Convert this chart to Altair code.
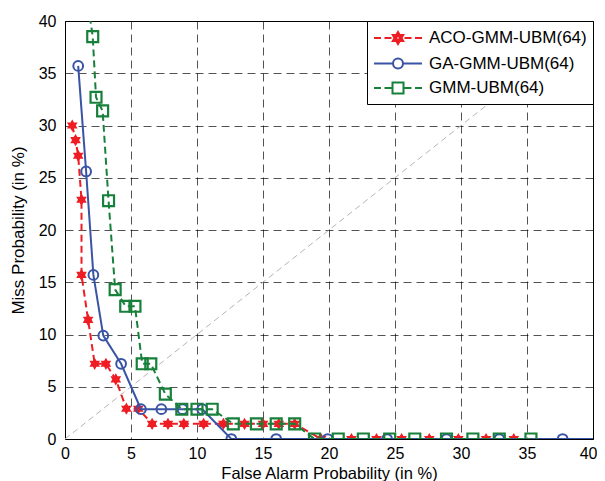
import altair as alt
import pandas as pd

# ---------------- data ----------------
series_names = ["ACO-GMM-UBM(64)", "GA-GMM-UBM(64)", "GMM-UBM(64)"]
series_colors = ["#ee1d23", "#3953a5", "#17803a"]

aco_fa = [0.55, 0.8, 1.0, 1.25, 1.25, 1.75, 2.25, 3.1, 3.85, 4.65, 5.55, 6.6, 7.8, 9.0,
          10.5, 12.0, 13.6, 15.0, 16.2, 17.4, 19.4, 21.7, 23.6, 25.5, 27.6, 29.8, 31.9, 34.0]
aco_miss = [30.0, 28.6, 27.1, 22.9, 15.7, 11.4, 7.2, 7.2, 5.7, 2.9, 2.9, 1.45, 1.45, 1.45,
            1.45, 1.45, 1.45, 1.45, 1.45, 1.45, 0, 0, 0, 0, 0, 0, 0, 0]

ga_fa = [1.0, 1.6, 2.15, 2.9, 4.25, 5.75, 7.3, 8.9, 10.4, 12.6, 16.0, 19.9, 24.4, 28.9,
         32.9, 37.7, 42.0]
ga_miss = [35.7, 25.6, 15.7, 9.9, 7.2, 2.85, 2.85, 2.85, 2.85, 0, 0, 0, 0, 0, 0, 0, 0]

gmm_fa = [1.65, 2.1, 2.35, 2.85, 3.3, 3.8, 4.6, 5.3, 5.85, 6.5, 7.6, 8.85, 10.0, 11.15,
          12.75, 14.5, 16.0, 17.4, 18.9, 20.7, 22.6, 24.6, 26.5, 28.9, 30.9, 32.9, 35.3]
gmm_miss = [42.5, 38.5, 32.7, 31.4, 22.8, 14.3, 12.7, 12.7, 7.2, 7.2, 4.3, 2.85, 2.85, 2.85,
            1.45, 1.45, 1.45, 1.45, 0, 0, 0, 0, 0, 0, 0, 0, 0]

diag = [0, 40]
tick_values = [0, 5, 10, 15, 20, 25, 30, 35, 40]

# ---------------- marker shapes ----------------
star_path = ("M0,-1L0.2887,-0.5L0.866,-0.5L0.5774,0L0.866,0.5L0.2887,0.5L0,1"
             "L-0.2887,0.5L-0.866,0.5L-0.5774,0L-0.866,-0.5L-0.2887,-0.5Z")


def hexagram(cx, r):
    import math
    ri = r / 3 ** 0.5
    pts = []
    for k in range(12):
        ang = -math.pi / 2 + k * math.pi / 6
        rad = r if k % 2 == 0 else ri
        pts.append((cx + rad * math.cos(ang), rad * math.sin(ang)))
    return "M" + "L".join(f"{x:.3f},{y:.3f}" for x, y in pts) + "Z"


# legend glyphs: line segments + marker, marker centred at x=1.4 units
dashes = "M-1,0L-0.3,0M0.05,0L0.75,0M2.05,0L2.75,0M3.1,0L3.8,0"
leg_aco = dashes + hexagram(1.4, 0.6) + hexagram(1.4, 0.3)
leg_ga = "M-1,0L0.9,0M1.9,0L3.8,0M1.9,0A0.5,0.5 0 1,1 0.9,0A0.5,0.5 0 1,1 1.9,0Z"
leg_gmm = dashes + "M0.85,-0.55L1.95,-0.55L1.95,0.55L0.85,0.55Z"
legend_paths = [leg_aco, leg_ga, leg_gmm]

# ---------------- chart ----------------
xs = alt.Scale(domain=[0, 40], nice=False)
ys = alt.Scale(domain=[0, 40], nice=False)
X = alt.X("fa:Q", scale=xs,
          axis=alt.Axis(values=tick_values, title="False Alarm Probability (in %)",
                        labelPadding=6, titlePadding=4, labelFlush=False,
                        labelAlign={"condition": {"test": "datum.value >= 40",
                                                  "value": "right"},
                                    "value": "center"},
                        labelOffset={"condition": {"test": "datum.value >= 40",
                                                   "value": 4},
                                     "value": 0},
                        titleFontSize=16.5))
Y = alt.Y("miss:Q", scale=ys,
          axis=alt.Axis(values=tick_values, title="Miss Probability (in %)",
                        labelPadding=9, titlePadding=11, titleFontSize=17))


def frame(fa, miss):
    return pd.DataFrame({"fa": fa, "miss": miss})


diag_layer = alt.Chart(frame(diag, diag)).mark_line(
    color="#b5b5b5", strokeWidth=1, strokeDash=[6, 4]).encode(x=X, y=Y)

aco_df = frame(aco_fa, aco_miss)
aco_line = alt.Chart(aco_df).mark_line(
    color=series_colors[0], strokeWidth=2, strokeDash=[7, 4], clip=True).encode(x=X, y=Y)
aco_pts = alt.Chart(aco_df).mark_point(
    shape=star_path, filled=True, size=150, color=series_colors[0], opacity=1,
    clip=True).encode(x=X, y=Y)

ga_df = frame(ga_fa, ga_miss)
ga_line = alt.Chart(ga_df).mark_line(
    color=series_colors[1], strokeWidth=2, clip=True).encode(x=X, y=Y)
ga_pts = alt.Chart(ga_df).mark_point(
    shape="circle", filled=False, size=95, strokeWidth=2, color=series_colors[1],
    opacity=1, clip=True).encode(x=X, y=Y)

gmm_df = frame(gmm_fa, gmm_miss)
gmm_line = alt.Chart(gmm_df).mark_line(
    color=series_colors[2], strokeWidth=2, strokeDash=[7, 4], clip=True).encode(x=X, y=Y)
gmm_pts = alt.Chart(gmm_df).mark_point(
    shape="square", filled=False, size=120, strokeWidth=2.2, color=series_colors[2],
    opacity=1, clip=True).encode(x=X, y=Y)

legend_layer = alt.Chart(pd.DataFrame({"series": series_names})).mark_point(
    filled=False, size=400, strokeWidth=2, opacity=1).encode(
    color=alt.Color("series:N",
                    scale=alt.Scale(domain=series_names, range=series_colors),
                    legend=alt.Legend(title=None)),
    shape=alt.Shape("series:N",
                    scale=alt.Scale(domain=series_names, range=legend_paths),
                    legend=alt.Legend(title=None)),
).transform_filter("false")

chart = alt.layer(
    diag_layer, aco_line, aco_pts, ga_line, ga_pts, gmm_line, gmm_pts, legend_layer
).properties(
    width=528, height=418, autosize="none",
    padding={"left": 57, "top": 13, "right": 4, "bottom": 42},
).configure_view(
    stroke="black", strokeWidth=1
).configure_axis(
    labelFont="Liberation Sans", labelFontSize=16, labelColor="black",
    titleFont="Liberation Sans", titleFontSize=16, titleFontWeight="normal",
    titleColor="black", ticks=False, domain=False, grid=True,
    gridColor="black", gridDash=[8, 5], gridWidth=0.8, gridOpacity=0.85,
).configure_legend(
    orient="top-right", offset=0, padding=6, strokeColor="black", fillColor="white",
    labelFont="Liberation Sans", labelFontSize=17, labelColor="black",
    symbolSize=400, symbolStrokeWidth=2, labelOffset=34, rowPadding=4.5,
    cornerRadius=0,
)

chart.save("out.html", embed_options={"renderer": "svg", "actions": False})
